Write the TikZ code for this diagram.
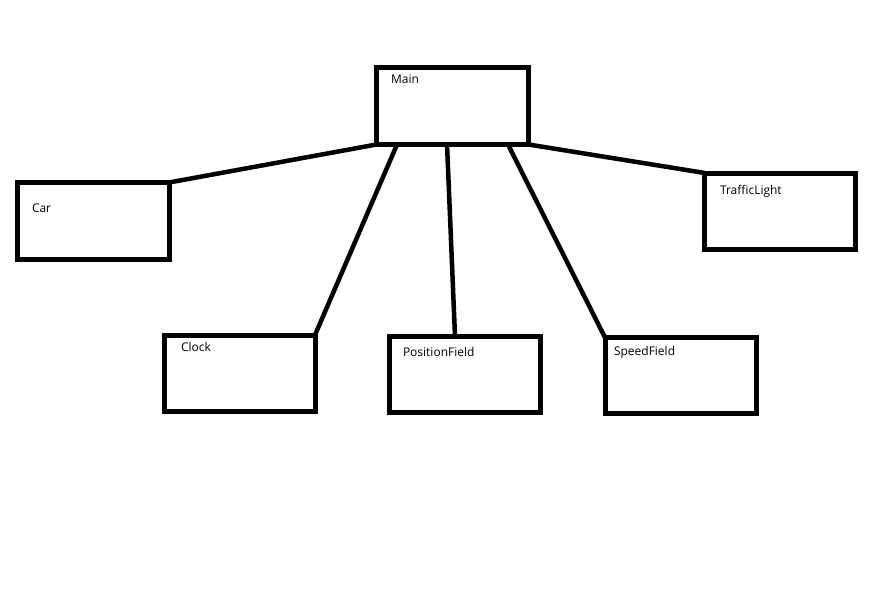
\documentclass[tikz,border=0pt]{standalone}
\usepackage{fontspec}
\setmainfont{Open Sans}
\usetikzlibrary{calc}
\begin{document}
\begin{tikzpicture}[x=1pt,y=-1pt,
  boxnode/.style={draw=black, line width=5pt, rectangle, outer sep=0pt, inner sep=0pt},
  lbl/.style={anchor=base west, inner sep=0pt, outer sep=0pt, font=\fontsize{12}{14}\selectfont},
  conn/.style={line width=4.5pt, black}]
\useasboundingbox[fill=white] (0,0) rectangle (876,602);
% boxes (stroke centres)
\node[boxnode, minimum width=152pt, minimum height=77pt, anchor=north west] (main) at (376.5,67.5) {};
\node[boxnode, minimum width=151.5pt, minimum height=76.5pt, anchor=north west] (car) at (17.5,182.5) {};
\node[boxnode, minimum width=151pt, minimum height=76pt, anchor=north west] (tl) at (704.8,173) {};
\node[boxnode, minimum width=151pt, minimum height=76pt, anchor=north west] (clock) at (164,335) {};
\node[boxnode, minimum width=151pt, minimum height=76pt, anchor=north west] (pf) at (389,336) {};
\node[boxnode, minimum width=151.5pt, minimum height=76pt, anchor=north west] (sf) at (605,337.5) {};
% labels
\node[lbl] (mainlbl) at (391,84) {Main};
\node[lbl] (carlbl) at (32,212) {Car};
\node[lbl] (tllbl) at (720,194) {TrafficLight};
\node[lbl] (clocklbl) at (181,351.5) {Clock};
\node[lbl] (pflbl) at (403,356) {PositionField};
\node[lbl] (sflbl) at (614,355) {SpeedField};
% connectors
\draw[conn] (main.south west) -- (car.north east);
\draw[conn] ($(main.south west)!0.135!(main.south east)$) -- (clock.north east);
\draw[conn] ($(main.south west)!0.464!(main.south east)$) -- ($(pf.north west)!0.437!(pf.north east)$);
\draw[conn] ($(main.south west)!0.865!(main.south east)$) -- (sf.north west);
\draw[conn] (main.south east) -- (tl.north west);
\end{tikzpicture}
\end{document}
